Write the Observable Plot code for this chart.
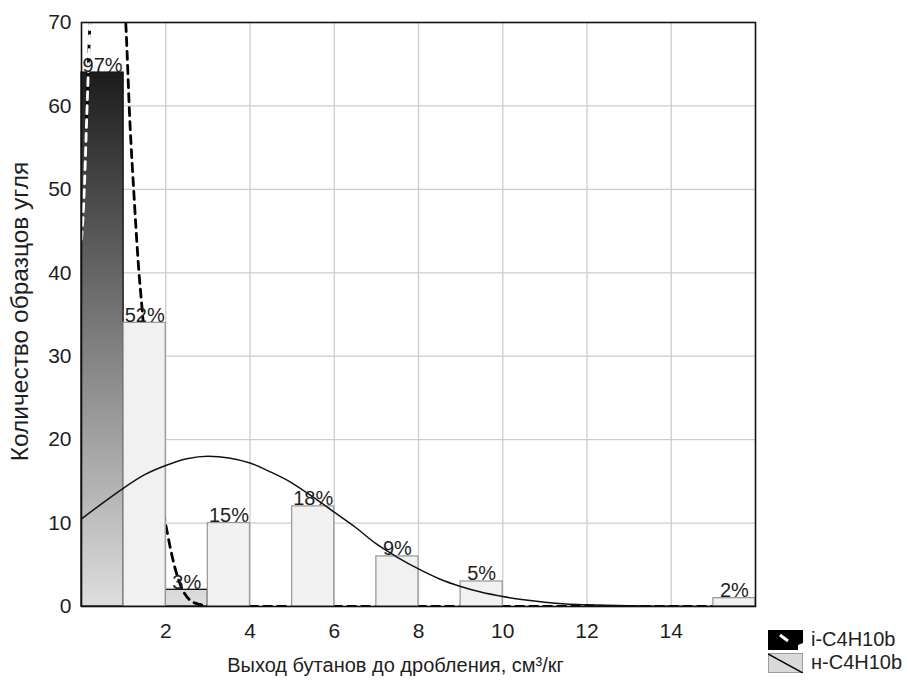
<!DOCTYPE html>
<html>
<head>
<meta charset="utf-8">
<script src="https://cdn.jsdelivr.net/npm/d3@7"></script>
<script src="https://cdn.jsdelivr.net/npm/@observablehq/plot@0.6"></script>
<style>
  html, body { margin: 0; padding: 0; background: #fff; overflow: hidden; }
  #wrap { position: relative; width: 908px; height: 680px; font-family: "Liberation Sans", Arial, sans-serif; }
  #legend { position: absolute; left: 768px; top: 628px; font-size: 20px; color: #1e1e1e; line-height: 23px; }
  #legend .row { display: flex; align-items: center; height: 23px; }
  #legend svg { margin-right: 8px; }
</style>
</head>
<body>
<div id="wrap"></div>
<script>
// ---- data ----
const xTicks = [2, 4, 6, 8, 10, 12, 14];
const yTicks = [0, 10, 20, 30, 40, 50, 60, 70];
const yGrid = [10, 20, 30, 40, 50, 60];
const binWidth = 1;

const seriesNames = ["i-C4H10b", "н-C4H10b"];

const iBinStart = [0, 2];
const iCount = [64, 2];
const iPct = ["97%", "3%"];

const nBinStart = [1, 3, 5, 7, 9, 15];
const nCount = [34, 10, 12, 6, 3, 1];
const nPct = ["52%", "15%", "18%", "9%", "5%", "2%"];

// fitted curves
const iCurveX = [0, 0.05, 0.12, 0.2, 0.3, 0.45, 0.6, 0.75, 0.9, 1.05, 1.15, 1.25, 1.35, 1.45, 1.7, 2.05, 2.2, 2.4, 2.7, 3.0, 3.5, 4, 5, 6, 7, 8, 9, 10, 11, 12, 13, 14, 15, 16];
const iCurveY = [44, 48, 58, 70, 79, 86, 88, 86, 79, 70, 58, 49, 41, 35, 20, 8.5, 5, 2, 0.4, 0.1, 0, 0, 0, 0, 0, 0, 0, 0, 0, 0, 0, 0, 0, 0];

const nCurveX = [0, 0.5, 1, 1.5, 2, 2.5, 3, 3.5, 4, 4.5, 5, 5.5, 6, 6.5, 7, 7.5, 8, 8.5, 9, 9.5, 10, 10.5, 11, 11.5, 12, 13, 14, 15, 16];
const nCurveY = [10.5, 12.4, 14.2, 15.8, 16.9, 17.7, 18.0, 17.8, 17.2, 16.1, 14.8, 13.1, 11.3, 9.5, 7.5, 5.9, 4.5, 3.3, 2.4, 1.7, 1.2, 0.8, 0.5, 0.3, 0.2, 0.08, 0.03, 0, 0];

const xLabel = "Выход бутанов до дробления, см³/кг";
const yLabel = "Количество образцов угля";

// ---- build tables ----
const iBars = iBinStart.map((b, k) => ({x1: b, x2: b + binWidth, y1: 0, y2: iCount[k], label: iPct[k]}));
const nBars = nBinStart.map((b, k) => ({x1: b, x2: b + binWidth, y1: 0, y2: nCount[k], label: nPct[k]}));
const iCurve = iCurveX.map((x, k) => ({x, y: iCurveY[k]}));
const nCurve = nCurveX.map((x, k) => ({x, y: nCurveY[k]}));
// part of the dashed curve lying over the dark bar is drawn white
const iCurveOnBar = iCurve.filter(d => d.x <= 0.2);
const iCurveOff = iCurve.filter(d => d.x >= 0.12);

const gridStyle = {stroke: "#cdcdcd", strokeOpacity: 1, strokeWidth: 1.3};
const dash = {curve: "monotone-x", strokeWidth: 2.8, strokeDasharray: "8,6", clip: true};

const chart = Plot.plot({
  width: 908,
  height: 680,
  marginTop: 22,
  marginLeft: 81,
  marginRight: 153,
  marginBottom: 74,
  style: {fontFamily: '"Liberation Sans", Arial, sans-serif', color: "#1e1e1e", background: "#fff"},
  x: {domain: [0, 16]},
  y: {domain: [0, 70]},
  marks: [
    Plot.gridX(xTicks, gridStyle),
    Plot.gridY(yGrid, gridStyle),
    Plot.rect(iBars, {x1: "x1", x2: "x2", y1: "y1", y2: "y2", fill: "url(#gradI)", stroke: "#111", strokeWidth: 1.3}),
    Plot.line(iCurveOff, {x: "x", y: "y", stroke: "#000", ...dash}),
    Plot.line(iCurveOnBar, {x: "x", y: "y", stroke: "#fff", ...dash}),
    Plot.rect(nBars, {x1: "x1", x2: "x2", y1: "y1", y2: "y2", fill: "#f1f1f1", stroke: "#9c9c9c", strokeWidth: 1.3}),
    Plot.line(nCurve, {x: "x", y: "y", curve: "monotone-x", stroke: "#111", strokeWidth: 1.5, clip: true}),
    Plot.text(iBars, {x: d => (d.x1 + d.x2) / 2, y: "y2", text: "label", lineAnchor: "bottom", dy: -1, fontSize: 20, fill: "#1e1e1e"}),
    Plot.text(nBars, {x: d => (d.x1 + d.x2) / 2, y: "y2", text: "label", lineAnchor: "bottom", dy: -1, fontSize: 20, fill: "#1e1e1e"}),
    Plot.frame({stroke: "#111", strokeWidth: 1.6}),
    Plot.axisX(xTicks, {tickSize: 0, tickPadding: 17, fontSize: 21, label: null}),
    Plot.axisY(yTicks, {tickSize: 0, tickPadding: 10, fontSize: 21, label: null}),
    Plot.text([xLabel], {frameAnchor: "bottom", textAnchor: "middle", lineAnchor: "middle", dy: 59, dx: -23, fontSize: 20, fill: "#1e1e1e"}),
    Plot.text([yLabel], {frameAnchor: "left", textAnchor: "middle", lineAnchor: "middle", rotate: -90, dx: -61, dy: -3, fontSize: 24.5, fill: "#1e1e1e"})
  ]
});

// gradient for the i-C4H10b bars, spanning the plot's y range
const ys = chart.scale("y");
const gy1 = ys.apply(70), gy2 = ys.apply(0);
const NS = "http://www.w3.org/2000/svg";
const defs = document.createElementNS(NS, "defs");
const grad = document.createElementNS(NS, "linearGradient");
grad.setAttribute("id", "gradI");
grad.setAttribute("gradientUnits", "userSpaceOnUse");
grad.setAttribute("x1", 0); grad.setAttribute("x2", 0);
grad.setAttribute("y1", gy1); grad.setAttribute("y2", gy2);
[["0%", "#0a0a0a"], ["100%", "#dedede"]].forEach(([o, c]) => {
  const s = document.createElementNS(NS, "stop");
  s.setAttribute("offset", o); s.setAttribute("stop-color", c);
  grad.appendChild(s);
});
defs.appendChild(grad);
chart.insertBefore(defs, chart.firstChild);

const wrap = document.getElementById("wrap");
wrap.appendChild(chart);

// legend
const legend = document.createElement("div");
legend.id = "legend";
const sw = [
  `<svg width="35" height="20"><rect x="0.5" y="0.5" width="34" height="19" fill="#000" stroke="#000"/><line x1="12" y1="5" x2="20" y2="11" stroke="#fff" stroke-width="3"/><path d="M30 20 L30 15 L35 13 L35 20 Z" fill="#fff"/></svg>`,
  `<svg width="35" height="20"><rect x="0.5" y="0.5" width="34" height="19" fill="#d9d9d9" stroke="#9c9c9c"/><line x1="0" y1="1" x2="35" y2="20" stroke="#000" stroke-width="1.5"/></svg>`
];
seriesNames.forEach((name, k) => {
  const row = document.createElement("div");
  row.className = "row";
  row.innerHTML = sw[k] + `<span>${name}</span>`;
  legend.appendChild(row);
});
wrap.appendChild(legend);
</script>
</body>
</html>
